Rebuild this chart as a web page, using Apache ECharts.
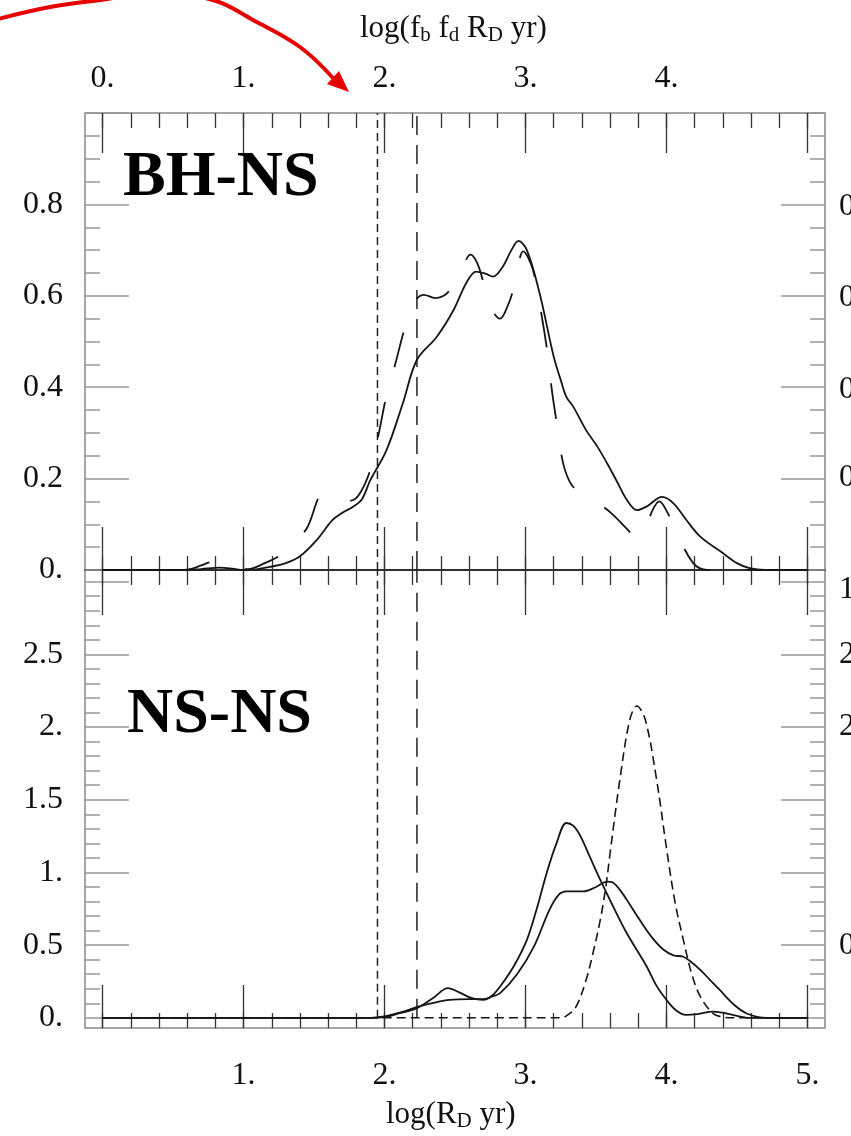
<!DOCTYPE html>
<html>
<head>
<meta charset="utf-8">
<script src="https://cdn.jsdelivr.net/npm/echarts@6/dist/echarts.min.js"></script>
<style>
  html, body { margin: 0; padding: 0; background: #fff; }
  #chart { width: 851px; height: 1136px; }
</style>
</head>
<body>
<div id="chart"></div>
<script>
// ---- data: x = log(R_D yr), y = probability density ----

// BH-NS panel
const bhnsSolid = [[0,0],[0.5,0],[0.6,0],[0.7,0.002],[0.83,0.005],[0.92,0.003],[1.0,0],[1.1,0.002],[1.19,0.007],[1.3,0.015],[1.4,0.03],[1.52,0.066],[1.63,0.109],[1.7,0.125],[1.78,0.139],[1.84,0.155],[1.9,0.197],[2.015,0.263],[2.13,0.365],[2.23,0.46],[2.37,0.51],[2.49,0.569],[2.58,0.628],[2.65,0.653],[2.72,0.648],[2.77,0.642],[2.84,0.664],[2.9,0.70],[2.95,0.72],[3.01,0.70],[3.10,0.606],[3.20,0.467],[3.25,0.416],[3.29,0.379],[3.34,0.357],[3.43,0.306],[3.51,0.27],[3.58,0.233],[3.65,0.193],[3.72,0.153],[3.79,0.131],[3.86,0.139],[3.97,0.16],[4.05,0.146],[4.14,0.11],[4.24,0.073],[4.40,0.037],[4.5,0.015],[4.59,0.004],[4.7,0],[5,0]];
const bhnsDashed = [[0,0],[0.5,0],[0.62,0.002],[0.7,0.01],[0.77,0.017],[0.85,0.012],[0.95,0.004],[1.03,0.002],[1.15,0.015],[1.27,0.034],[1.36,0.06],[1.45,0.092],[1.57,0.168],[1.66,0.16],[1.76,0.152],[1.82,0.165],[1.9,0.22],[1.96,0.30],[2.01,0.376],[2.08,0.455],[2.15,0.536],[2.22,0.59],[2.28,0.602],[2.36,0.595],[2.42,0.60],[2.48,0.619],[2.55,0.66],[2.61,0.69],[2.66,0.67],[2.71,0.62],[2.76,0.57],[2.82,0.55],[2.87,0.575],[2.92,0.62],[2.985,0.697],[3.05,0.66],[3.12,0.547],[3.16,0.466],[3.19,0.387],[3.23,0.306],[3.27,0.23],[3.33,0.185],[3.41,0.168],[3.5,0.15],[3.61,0.124],[3.72,0.09],[3.79,0.069],[3.85,0.09],[3.9,0.13],[3.95,0.15],[4.0,0.13],[4.07,0.084],[4.19,0.015],[4.29,0],[5,0]];

// NS-NS panel
const nsnsSolidA = [[0,0],[1.9,0],[2.0,0.005],[2.1,0.03],[2.23,0.067],[2.35,0.14],[2.45,0.204],[2.53,0.175],[2.62,0.135],[2.70,0.124],[2.76,0.15],[2.82,0.215],[2.92,0.36],[3.01,0.536],[3.08,0.75],[3.15,0.995],[3.22,1.2],[3.29,1.34],[3.34,1.32],[3.39,1.25],[3.46,1.1],[3.53,0.95],[3.62,0.77],[3.72,0.58],[3.86,0.353],[3.93,0.22],[4.00,0.124],[4.07,0.05],[4.14,0.02],[4.22,0.025],[4.33,0.043],[4.4,0.035],[4.47,0.02],[4.59,0],[5,0]];
const nsnsSolidB = [[0,0],[1.9,0],[2.0,0.01],[2.12,0.04],[2.25,0.08],[2.38,0.11],[2.46,0.124],[2.6,0.128],[2.70,0.128],[2.76,0.145],[2.82,0.17],[2.94,0.3],[3.06,0.49],[3.17,0.743],[3.24,0.85],[3.29,0.869],[3.35,0.87],[3.41,0.869],[3.5,0.9],[3.58,0.937],[3.62,0.93],[3.67,0.88],[3.74,0.78],[3.81,0.674],[3.9,0.55],[3.98,0.468],[4.05,0.43],[4.12,0.42],[4.18,0.38],[4.24,0.33],[4.31,0.26],[4.38,0.19],[4.48,0.09],[4.57,0.03],[4.71,0],[5,0]];
const nsnsDashed = [[0,0],[3.25,0],[3.3,0.02],[3.36,0.078],[3.43,0.26],[3.48,0.45],[3.53,0.67],[3.57,0.9],[3.60,1.13],[3.67,1.64],[3.74,2.05],[3.79,2.145],[3.85,2.05],[3.93,1.64],[4.00,1.17],[4.06,0.8],[4.12,0.536],[4.18,0.3],[4.24,0.147],[4.33,0.03],[4.4,0.005],[4.47,0],[5,0]];

// vertical reference lines (short dash, long dash)
const thresholds = [1.95, 2.23];

// tick labels
const xTopLabels = [0, 1, 2, 3, 4];
const xBottomLabels = [1, 2, 3, 4, 5];
const yTopLabels = [0, 0.2, 0.4, 0.6, 0.8];
const yBottomLabels = [0, 0.5, 1, 1.5, 2, 2.5];

// ---- layout ----
const X_MIN = -0.125, X_MAX = 5.125;
const Y1_MIN = 0, Y1_MAX = 1.0;
const Y2_MIN = -0.07, Y2_MAX = 3.08;
const FONT = '"Liberation Serif","Times New Roman",serif';
const INK = '#111';
const XTICK = '#333';
const YTICK = '#999';

const steps = (a, b, d) => {
  const out = [];
  for (let k = 0; a + k * d <= b + 1e-9; k++) out.push(+(a + k * d).toFixed(3));
  return out;
};
const fmt = v => {
  const r = +(+v).toFixed(2);
  return Number.isInteger(r) ? r + '.' : String(r);
};

function makeX(grid, pos, ticks, len, extra) {
  return Object.assign({
    type: 'value', gridIndex: grid, position: pos, min: X_MIN, max: X_MAX,
    axisLine: { show: false, onZero: false },
    splitLine: { show: false },
    axisTick: { show: true, inside: true, length: len, customValues: ticks,
                lineStyle: { color: XTICK, width: 1.3 } },
    axisLabel: { show: false }
  }, extra || {});
}
function makeY(grid, pos, min, max, ticks, len, extra) {
  return Object.assign({
    type: 'value', gridIndex: grid, position: pos, min, max,
    axisLine: { show: false, onZero: false },
    splitLine: { show: false },
    axisTick: { show: true, inside: true, length: len, customValues: ticks,
                lineStyle: { color: YTICK, width: 1.5 } },
    axisLabel: { show: false }
  }, extra || {});
}
const labelStyle = (values, margin) => ({
  show: true, customValues: values, formatter: fmt, margin,
  color: INK, fontFamily: FONT, fontSize: 32
});

const xMajor = steps(0, 5, 1);
const xMinor = steps(0, 5, 0.2);

const xAxes = [
  // upper panel
  makeX(0, 'top', xMajor, 40, { axisLabel: labelStyle(xTopLabels, 18) }),
  makeX(0, 'top', xMinor, 15),
  makeX(0, 'bottom', xMajor, 43, { axisLine: { show: true, onZero: false, lineStyle: { color: '#111', width: 1.5 } } }),
  makeX(0, 'bottom', xMinor, 14),
  // lower panel
  makeX(1, 'top', xMajor, 45),
  makeX(1, 'top', xMinor, 15),
  makeX(1, 'bottom', xMajor, 43, { axisLabel: labelStyle(xBottomLabels, 32) }),
  makeX(1, 'bottom', xMinor, 15)
];

const y1Major = steps(0, 1, 0.2), y1Minor = steps(0, 1, 0.05);
const y2Major = steps(0, 3, 0.5), y2Minor = steps(0, 3, 0.1);
const yAxes = [
  makeY(0, 'left', Y1_MIN, Y1_MAX, y1Major, 44, { axisLabel: labelStyle(yTopLabels, 22) }),
  makeY(0, 'left', Y1_MIN, Y1_MAX, y1Minor, 15),
  makeY(0, 'right', Y1_MIN, Y1_MAX, y1Major, 44),
  makeY(0, 'right', Y1_MIN, Y1_MAX, y1Minor, 15),
  makeY(1, 'left', Y2_MIN, Y2_MAX, y2Major, 44, { axisLabel: labelStyle(yBottomLabels, 22) }),
  makeY(1, 'left', Y2_MIN, Y2_MAX, y2Minor, 15),
  makeY(1, 'right', Y2_MIN, Y2_MAX, y2Major, 44),
  makeY(1, 'right', Y2_MIN, Y2_MAX, y2Minor, 15)
];

function curve(name, data, xi, yi, dash, width) {
  return {
    name, type: 'line', xAxisIndex: xi, yAxisIndex: yi, data,
    smooth: 0.35, symbol: 'none', silent: true,
    lineStyle: { color: '#151515', width: width || 1.8, type: dash || 'solid' }
  };
}
function vline(x, xi, yi, top, dash) {
  return {
    type: 'line', xAxisIndex: xi, yAxisIndex: yi, data: [[x, 0], [x, top]],
    symbol: 'none', silent: true,
    lineStyle: { color: '#222', width: 1.5, type: dash }
  };
}

const SHORT = [8, 5], LONG = [19, 10];
const series = [
  vline(thresholds[0], 0, 0, Y1_MAX, SHORT),
  vline(thresholds[1], 0, 0, Y1_MAX, LONG),
  vline(thresholds[0], 4, 4, Y2_MAX, SHORT),
  vline(thresholds[1], 4, 4, Y2_MAX, LONG),
  curve('BH-NS dashed', bhnsDashed, 0, 0, [36, 36]),
  curve('BH-NS', bhnsSolid, 0, 0),
  curve('NS-NS dashed', nsnsDashed, 4, 4, [9, 5], 1.6),
  curve('NS-NS A', nsnsSolidA, 4, 4),
  curve('NS-NS B', nsnsSolidB, 4, 4)
];

// axis titles and panel names as rich text
const titleRich = {
  n: { fontFamily: FONT, fontSize: 31, fill: INK },
  s: { fontFamily: FONT, fontSize: 21, fill: INK, padding: [14, 0, 0, 0] }
};
const graphics = [
  { type: 'text', left: 360, top: 13,
    style: { text: '{n|log(f}{s|b}{n| f}{s|d}{n| R}{s|D}{n| yr)}', rich: titleRich } },
  { type: 'text', left: 386, top: 1099,
    style: { text: '{n|log(R}{s|D}{n| yr)}', rich: titleRich } },
  { type: 'text', x: 123, y: 178,
    style: { text: 'BH-NS', font: 'bold 64px "Liberation Serif"', fill: '#000', verticalAlign: 'middle' } },
  { type: 'text', x: 127, y: 715,
    style: { text: 'NS-NS', font: 'bold 64px "Liberation Serif"', fill: '#000', verticalAlign: 'middle' } },
  // neighbouring panel's tick labels, cut by the page edge
  ...[['0.8', 207], ['0.6', 298], ['0.4', 390], ['0.2', 478], ['1.', 590], ['2.5', 655], ['2.', 727], ['0.5', 946]]
    .map(([t, y]) => ({ type: 'text', x: 839, y,
      style: { text: t, font: '32px "Liberation Serif"', fill: INK, verticalAlign: 'middle' } })),
  // red annotation arrow
  { type: 'polyline', silent: true,
    shape: { points: [[-6, 20], [50, 7], [100, 0], [155, -7], [213, 0], [253, 20], [300, 47], [333, 78]], smooth: 0.4 },
    style: { stroke: '#e60000', lineWidth: 4, fill: null } },
  { type: 'polygon', silent: true,
    shape: { points: [[349, 92], [327, 84], [339, 71]] },
    style: { fill: '#e60000' } }
];

const chart = echarts.init(document.getElementById('chart'), null, { renderer: 'canvas' });
chart.setOption({
  animation: false,
  backgroundColor: '#fff',
  grid: [
    { left: 85, top: 113, width: 740, height: 457, show: true, borderColor: '#888', borderWidth: 1.5, backgroundColor: 'transparent', containLabel: false, outerBoundsMode: 'none' },
    { left: 85, top: 570, width: 740, height: 458, show: true, borderColor: '#888', borderWidth: 1.5, backgroundColor: 'transparent', containLabel: false, outerBoundsMode: 'none' }
  ],
  xAxis: xAxes,
  yAxis: yAxes,
  series,
  graphic: graphics
});
</script>
</body>
</html>
